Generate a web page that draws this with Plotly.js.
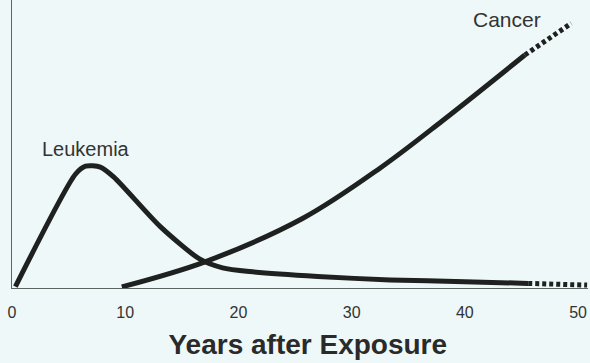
<!DOCTYPE html>
<html>
<head>
<meta charset="utf-8">
<script src="https://cdn.plot.ly/plotly-3.0.1.min.js"></script>
<style>html,body{margin:0;padding:0;background:#eef8f8;}#chart{width:590px;height:363px;}</style>
</head>
<body>
<div id="chart"></div>
<script>
// Data (relative risk, arbitrary units 0-100)
var leukemiaYears  = [0.3, 5.6, 6.5, 7.8, 9.0, 13.1, 16.6, 18.6, 21.0, 27.0, 33.4, 40.0, 45.6];
var leukemiaValues = [0.5, 39.5, 42.3, 42.0, 38.5, 21.3, 10.0, 7.0, 5.7, 4.0, 2.8, 2.2, 1.6];
var leukemiaProjYears  = [45.6, 50.8];
var leukemiaProjValues = [1.6, 1.0];

var cancerYears  = [9.7, 17.05, 25.7, 32.5, 38.0, 45.3];
var cancerValues = [0.4, 9.1, 24.2, 41.6, 58.0, 80.9];
var cancerProjYears  = [45.3, 49.4];
var cancerProjValues = [80.9, 91.9];

var tickYears  = [0, 10, 20, 30, 40, 50];
var tickLabels = ['0', '10', '20', '30', '40', '50'];

var lineColor = '#1e211f';
var font = 'Liberation Sans, Arial, Helvetica, sans-serif';

var traces = [
  {x: leukemiaYears, y: leukemiaValues, mode: 'lines', name: 'Leukemia',
   line: {color: lineColor, width: 5, shape: 'spline', smoothing: 0.7}, cliponaxis: false},
  {x: leukemiaProjYears, y: leukemiaProjValues, mode: 'lines', name: 'Leukemia (projected)',
   line: {color: lineColor, width: 5, dash: '4px,3px'}, cliponaxis: false},
  {x: cancerYears, y: cancerValues, mode: 'lines', name: 'Cancer',
   line: {color: lineColor, width: 5, shape: 'spline', smoothing: 1}, cliponaxis: false},
  {x: cancerProjYears, y: cancerProjValues, mode: 'lines', name: 'Cancer (projected)',
   line: {color: lineColor, width: 5, dash: '4px,3px'}, cliponaxis: false}
];

var layout = {
  width: 590, height: 363,
  margin: {l: 12, r: 2, t: 0, b: 75},
  paper_bgcolor: '#eef8f8', plot_bgcolor: '#eef8f8',
  showlegend: false,
  font: {family: font, color: '#333'},
  xaxis: {
    range: [0, 50.88], showgrid: false, zeroline: false,
    showline: true, linecolor: '#5a6460', linewidth: 1,
    tickvals: tickYears, ticktext: tickLabels, ticks: '',
    tickfont: {size: 16, color: '#333', family: font},
    ticklabelstandoff: 10,
    title: {text: '<b>&nbsp;&nbsp;Years after Exposure</b>', font: {size: 28, color: '#2a2a2a', family: font}, standoff: 14},
    fixedrange: true
  },
  yaxis: {
    range: [0, 100], showgrid: false, zeroline: false,
    showline: true, linecolor: '#5a6460', linewidth: 1,
    showticklabels: false, ticks: '', fixedrange: true
  },
  annotations: [
    {x: 6.58, y: 48.4, xref: 'x', yref: 'y', text: 'Leukemia', showarrow: false,
     font: {size: 20, color: '#333', family: font}},
    {x: 43.7, y: 93.2, xref: 'x', yref: 'y', text: 'Cancer', showarrow: false,
     font: {size: 21, color: '#333', family: font}}
  ]
};

Plotly.newPlot('chart', traces, layout, {displayModeBar: false, staticPlot: true});
</script>
</body>
</html>
